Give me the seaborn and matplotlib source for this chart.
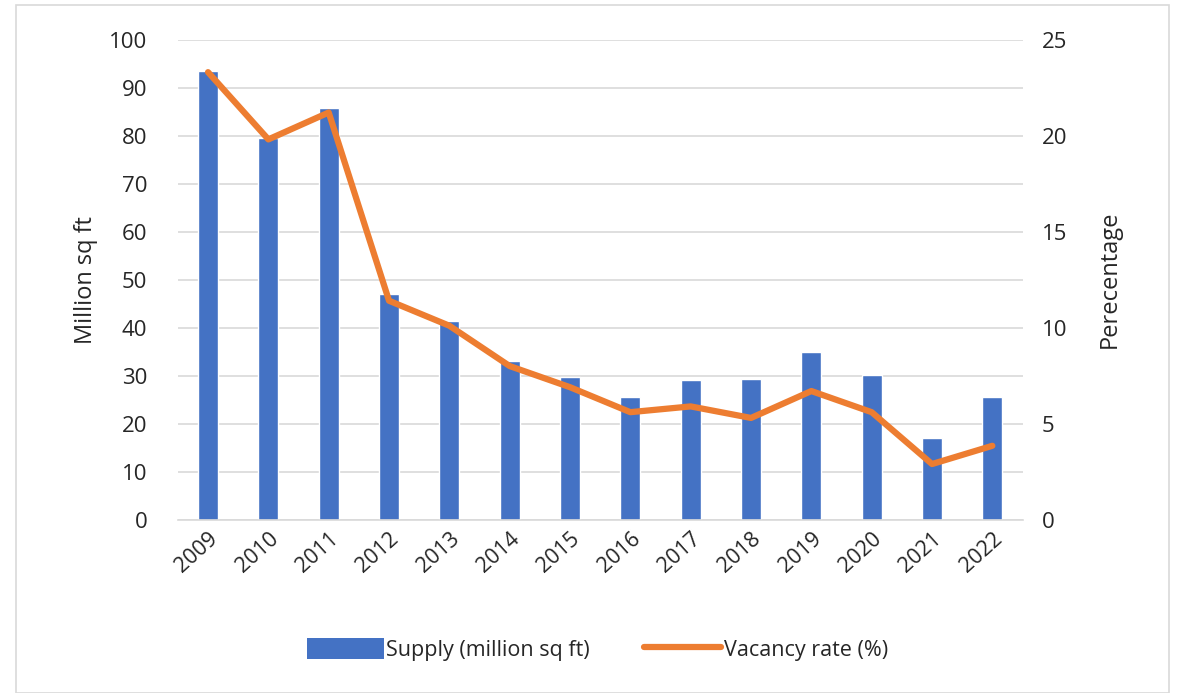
import matplotlib

matplotlib.use("Agg")
import matplotlib.pyplot as plt
import numpy as np
import pandas as pd
import seaborn as sns
from matplotlib.lines import Line2D
from matplotlib.patches import Patch, Rectangle

# Data
years = ["2009", "2010", "2011", "2012", "2013", "2014", "2015",
         "2016", "2017", "2018", "2019", "2020", "2021", "2022"]
supply = [93.4, 79.4, 85.8, 47.0, 41.4, 33.0, 29.8,
          25.5, 29.0, 29.4, 35.0, 30.2, 17.0, 25.5]
vacancy = [23.3, 19.8, 21.2, 11.4, 10.1, 8.0, 6.9,
           5.6, 5.9, 5.3, 6.7, 5.6, 2.9, 3.85]

blue = "#4472C4"
orange = "#ED7D31"
grid_col = "#D9D9D9"
text_col = "#262626"

df = pd.DataFrame({"year": years, "supply": supply, "vacancy": vacancy})
df["pos"] = np.arange(len(df))

sns.set_style("white")
plt.rcParams["font.family"] = ["Open Sans", "DejaVu Sans"]

fig = plt.figure(figsize=(11.78, 6.93), dpi=100)
ax = fig.add_axes([0.151, 0.250, 0.717, 0.693])

sns.barplot(data=df, x="year", y="supply", color=blue, width=0.33,
            saturation=1, ax=ax, zorder=2)
ax.set_ylim(0, 100)
ax.set_yticks(np.arange(0, 101, 10))
ax.yaxis.grid(True, color=grid_col, linewidth=1.2, zorder=0)
ax.set_axisbelow(True)
ax.set_xlim(-0.5, len(years) - 0.5)
ax.set_xlabel("")
ax.set_ylabel("Million sq ft", fontsize=17, color=text_col, labelpad=8)
ax.tick_params(axis="y", labelsize=16, colors=text_col, length=0, pad=22)
ax.tick_params(axis="x", labelsize=15.5, colors=text_col, length=0, pad=6)
plt.setp(ax.get_xticklabels(), rotation=42, ha="right", rotation_mode="anchor")

ax2 = ax.twinx()
sns.lineplot(data=df, x="pos", y="vacancy", color=orange, linewidth=4.5,
             ax=ax2, zorder=3)
ax2.set_ylim(0, 25)
ax2.set_yticks(np.arange(0, 26, 5))
ax2.set_xlim(-0.5, len(years) - 0.5)
ax2.set_ylabel("Perecentage", fontsize=17, color=text_col, labelpad=22)
ax2.tick_params(axis="y", labelsize=16, colors=text_col, length=0, pad=14)
ax2.set_xlabel("")

for a in (ax, ax2):
    for side in a.spines:
        a.spines[side].set_visible(False)
ax.spines["bottom"].set_visible(True)
ax.spines["bottom"].set_color(grid_col)
ax.spines["bottom"].set_linewidth(1.2)

handles = [
    Patch(facecolor=blue, edgecolor="none", label="Supply (million sq ft)"),
    Line2D([0], [0], color=orange, linewidth=4.5, label="Vacancy rate (%)"),
]
fig.legend(handles=handles, loc="center", bbox_to_anchor=(0.507, 0.063),
           ncol=2, frameon=False, fontsize=15.5, handlelength=3.6,
           handleheight=1.1, handletextpad=0.1, columnspacing=2.5,
           labelcolor=text_col)

# thin light border around the whole chart
fig.patches.append(Rectangle((0.014, 0.0), 0.978, 0.993, transform=fig.transFigure,
                             fill=False, edgecolor="#D9D9D9", linewidth=1.2))

fig.savefig("out.png", dpi=100)
